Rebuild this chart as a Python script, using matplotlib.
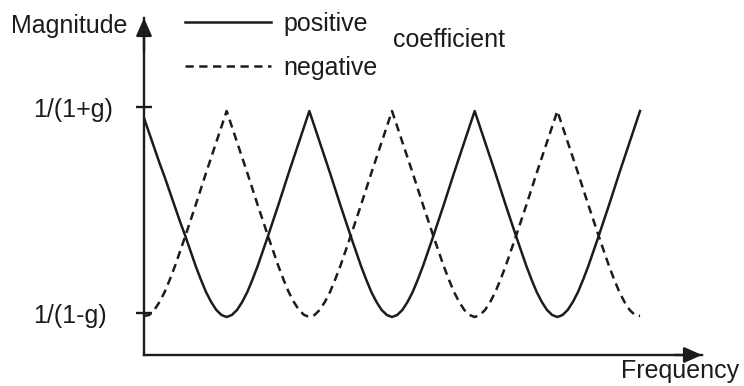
import numpy as np
import matplotlib
matplotlib.use("Agg")
import matplotlib.pyplot as plt

plt.rcParams['font.family'] = ['Liberation Sans', 'DejaVu Sans']

# ---- data (x in half-periods of the comb response) ----
freq = np.linspace(0, 6, 97)
positive = [2.37, 2.22, 2.07, 1.92, 1.78, 1.63, 1.48, 1.33, 1.19, 1.04, 0.89, 0.755, 0.63, 0.53, 0.45, 0.40, 0.38,
            0.40, 0.45, 0.53, 0.63, 0.755, 0.89, 1.04, 1.19, 1.345, 1.50, 1.66, 1.82, 1.975, 2.13, 2.285, 2.44,
            2.285, 2.13, 1.975, 1.82, 1.66, 1.50, 1.345, 1.19, 1.04, 0.89, 0.755, 0.63, 0.53, 0.45, 0.40, 0.38,
            0.40, 0.45, 0.53, 0.63, 0.755, 0.89, 1.04, 1.19, 1.345, 1.50, 1.66, 1.82, 1.975, 2.13, 2.285, 2.44,
            2.285, 2.13, 1.975, 1.82, 1.66, 1.50, 1.345, 1.19, 1.04, 0.89, 0.755, 0.63, 0.53, 0.45, 0.40, 0.38,
            0.40, 0.45, 0.53, 0.63, 0.755, 0.89, 1.04, 1.19, 1.345, 1.50, 1.66, 1.82, 1.975, 2.13, 2.285, 2.44]
negative = [0.39, 0.40, 0.45, 0.53, 0.63, 0.755, 0.89, 1.04, 1.19, 1.345, 1.50, 1.66, 1.82, 1.975, 2.13, 2.285, 2.44,
            2.285, 2.13, 1.975, 1.82, 1.66, 1.50, 1.345, 1.19, 1.04, 0.89, 0.755, 0.63, 0.53, 0.45, 0.40, 0.38,
            0.40, 0.45, 0.53, 0.63, 0.755, 0.89, 1.04, 1.19, 1.345, 1.50, 1.66, 1.82, 1.975, 2.13, 2.285, 2.44,
            2.285, 2.13, 1.975, 1.82, 1.66, 1.50, 1.345, 1.19, 1.04, 0.89, 0.755, 0.63, 0.53, 0.45, 0.40, 0.38,
            0.40, 0.45, 0.53, 0.63, 0.755, 0.89, 1.04, 1.19, 1.345, 1.50, 1.66, 1.82, 1.975, 2.13, 2.285, 2.44,
            2.285, 2.13, 1.975, 1.82, 1.66, 1.50, 1.345, 1.19, 1.04, 0.89, 0.755, 0.63, 0.53, 0.45, 0.40, 0.39]
ytick_values = [2.48, 0.42]
ytick_labels = ['1/(1+g)', '1/(1-g)']
series_labels = ['positive', 'negative']

# ---- layout ----
W, H = 744, 386
DPI = 100
ink = '#1c1c1c'
fs = 18

fig = plt.figure(figsize=(W / DPI, H / DPI), dpi=DPI)
ax_l, ax_r, ax_b, ax_t = 144, 702, 355, 18
ax = fig.add_axes([ax_l / W, 1 - ax_b / H, (ax_r - ax_l) / W, (ax_b - ax_t) / H])
ax.set_xlim(0, (ax_r - ax_l) / 82.67)
ax.set_ylim(0, (ax_b - ax_t) / 100)

l1, = ax.plot(freq, positive, color=ink, lw=1.8, solid_joinstyle='round')
l2, = ax.plot(freq, negative, color=ink, lw=1.8, linestyle=(0, (3.3, 2.2)))

for s in ['top', 'right']:
    ax.spines[s].set_visible(False)
for s in ['left', 'bottom']:
    ax.spines[s].set_linewidth(1.7)
    ax.spines[s].set_color(ink)

ax.set_xticks([])
ax.set_yticks(ytick_values)
ax.set_yticklabels(ytick_labels, fontsize=fs, color=ink)
ax.tick_params(axis='y', direction='inout', length=11.5, width=1.7, color=ink, pad=74)
for lbl in ax.get_yticklabels():
    lbl.set_horizontalalignment('left')

arrow = dict(arrowstyle='-|>,head_length=0.45,head_width=0.2', color=ink, lw=1.7,
             mutation_scale=24, shrinkA=0, shrinkB=0)
ax.annotate('', xy=(0, 1), xycoords='axes fraction', xytext=(0, 0.9), arrowprops=arrow)
ax.annotate('', xy=(1, 0), xycoords='axes fraction', xytext=(0.95, 0), arrowprops=arrow)

fig.text(11 / W, 1 - 33 / H, 'Magnitude', fontsize=fs, color=ink, ha='left', va='baseline')
fig.text(621 / W, 1 - 378 / H, 'Frequency', fontsize=fs, color=ink, ha='left', va='baseline')
fig.text(393 / W, 1 - 47 / H, 'coefficient', fontsize=fs, color=ink, ha='left', va='baseline')

leg = ax.legend([l1, l2], series_labels, loc='upper left',
                bbox_to_anchor=(185 / W, 1 - 12 / H), bbox_transform=fig.transFigure,
                frameon=False, borderpad=0, borderaxespad=0, handlelength=3.45,
                handletextpad=0.48, labelspacing=0.78, fontsize=fs)
for t in leg.get_texts():
    t.set_color(ink)

fig.savefig('out.png', dpi=DPI)
